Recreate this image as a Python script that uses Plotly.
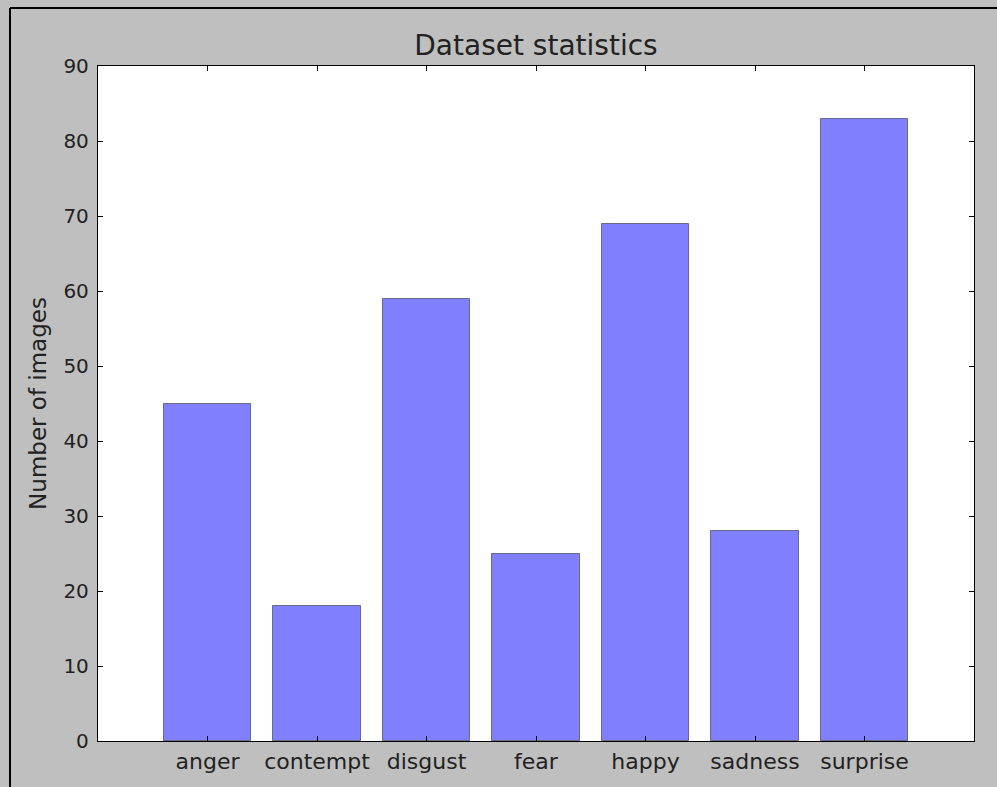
import plotly.graph_objects as go

emotions = ["anger", "contempt", "disgust", "fear", "happy", "sadness", "surprise"]
counts = [45, 18, 59, 25, 69, 28, 83]
y_ticks = [0, 10, 20, 30, 40, 50, 60, 70, 80, 90]

W, H = 997, 787
L, R, T, B = 98, 23, 66, 46
pw, ph = W - L - R, H - T - B
FONT = "DejaVu Sans"

fig = go.Figure()

fig.add_trace(
    go.Bar(
        x=list(range(len(emotions))),
        y=counts,
        width=0.8,
        marker=dict(color="#8080ff", line=dict(color="rgba(0,0,0,0.45)", width=1)),
        showlegend=False
    )
)

axis_style = dict(
    showline=True,
    linecolor="black",
    linewidth=1.3,
    mirror="allticks",
    ticks="inside",
    ticklen=5,
    tickcolor="black",
    showgrid=False,
    zeroline=False,
)

fig.update_xaxes(
    range=[-1, 7],
    tickmode="array",
    tickvals=list(range(len(emotions))),
    ticktext=emotions,
    tickfont=dict(family=FONT, size=22, color="#222"),
    **axis_style
)
fig.update_yaxes(
    range=[0, 90],
    tickmode="array",
    tickvals=y_ticks,
    tickfont=dict(family=FONT, size=20, color="#222"),
    ticklabelstandoff=4,
    title=dict(text="Number of images", font=dict(family=FONT, size=23, color="#222"), standoff=10),
    **axis_style
)

# outer frame lines (top and left edges of the figure)
x0 = (10 - L) / pw
y0 = (H - B - 8) / ph
fig.add_shape(type="line", xref="paper", yref="paper", x0=x0, x1=(W - L) / pw, y0=y0, y1=y0,
              line=dict(color="black", width=2))
fig.add_shape(type="line", xref="paper", yref="paper", x0=x0, x1=x0, y0=y0, y1=-(B + 5) / ph,
              line=dict(color="black", width=2))

fig.update_layout(
    width=W,
    height=H,
    margin=dict(l=L, r=R, t=T, b=B),
    paper_bgcolor="#bfbfbf",
    plot_bgcolor="white",
    title=dict(
        text="Dataset statistics",
        x=(L + pw / 2) / W,
        xanchor="center",
        y=1 - 45 / H,
        yanchor="middle",
        font=dict(family=FONT, size=28, color="#222")
    ),
    bargap=0,
)

fig.write_html(
    "out.html",
    config={"displayModeBar": False},
    post_script="document.body.style.margin='0';document.body.style.overflow='hidden';"
)
